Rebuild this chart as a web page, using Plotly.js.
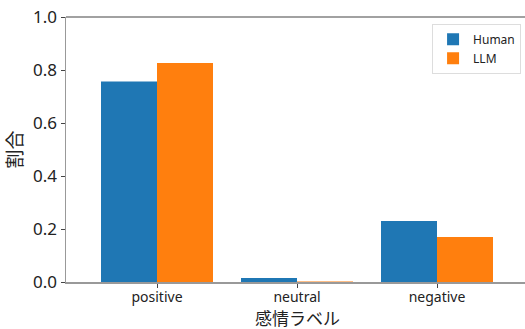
<!DOCTYPE html>
<html><head><meta charset="utf-8">
<script src="https://cdn.plot.ly/plotly-3.0.1.min.js"></script>
<style>html,body{margin:0;padding:0;overflow:hidden;background:#fff}</style>
</head><body><div id="chart"></div>
<script>
const categories = ["positive", "neutral", "negative"];
const humanValues = [0.757, 0.015, 0.230];
const llmValues = [0.826, 0.002, 0.170];
const yTicks = [0, 0.2, 0.4, 0.6, 0.8, 1.0];
const yTickLabels = ["0.0", "0.2", "0.4", "0.6", "0.8", "1.0"];
const FONT = "Noto Sans, Noto Sans CJK JP, sans-serif";
const CJK = "Noto Sans CJK JP, sans-serif";

const data = [
  {type: "bar", name: "Human", x: categories, y: humanValues, marker: {color: "#1f77b4"}},
  {type: "bar", name: "LLM", x: categories, y: llmValues, marker: {color: "#ff7f0e"}}
];
const layout = {
  width: 530, height: 329,
  margin: {l: 66, r: 2, t: 17, b: 47},
  paper_bgcolor: "#fff", plot_bgcolor: "#fff",
  barmode: "group", bargap: 0.2, bargroupgap: 0,
  font: {family: FONT, color: "#222"},
  xaxis: {
    type: "category", range: [-0.65, 2.65], showgrid: false, zeroline: false,
    showline: true, linecolor: "#999", linewidth: 1.5,
    ticks: "outside", ticklen: 4, tickcolor: "#444", ticklabelstandoff: -2,
    tickfont: {size: 14, family: FONT, color: "#222"}
  },
  yaxis: {
    range: [0, 1], showgrid: false, zeroline: false,
    showline: true, linecolor: "#999", linewidth: 1.5,
    ticks: "outside", ticklen: 4, tickcolor: "#444",
    tickvals: yTicks, ticktext: yTickLabels,
    tickfont: {size: 17, family: FONT, color: "#222"},
    title: {text: "割合", font: {size: 19, family: CJK, color: "#222"}, standoff: 6}
  },
  annotations: [{text: "感情ラベル", xref: "paper", yref: "paper", x: 0.5, y: 0,
    xanchor: "center", yanchor: "top", yshift: -22, borderpad: 0, showarrow: false,
    font: {size: 17, family: CJK, color: "#222"}}],
  shapes: [{type: "line", xref: "paper", yref: "paper", x0: 0, x1: 1, y0: 1, y1: 1,
    line: {color: "#444", width: 1.2}}],
  legend: {
    x: 0.985, y: 0.975, xanchor: "right", yanchor: "top",
    bgcolor: "#fff", bordercolor: "#ddd", borderwidth: 1,
    font: {size: 12, family: FONT, color: "#222"},
    itemwidth: 30, tracegroupgap: 0
  }
};
Plotly.newPlot("chart", data, layout, {displayModeBar: false, staticPlot: true});
</script></body></html>
